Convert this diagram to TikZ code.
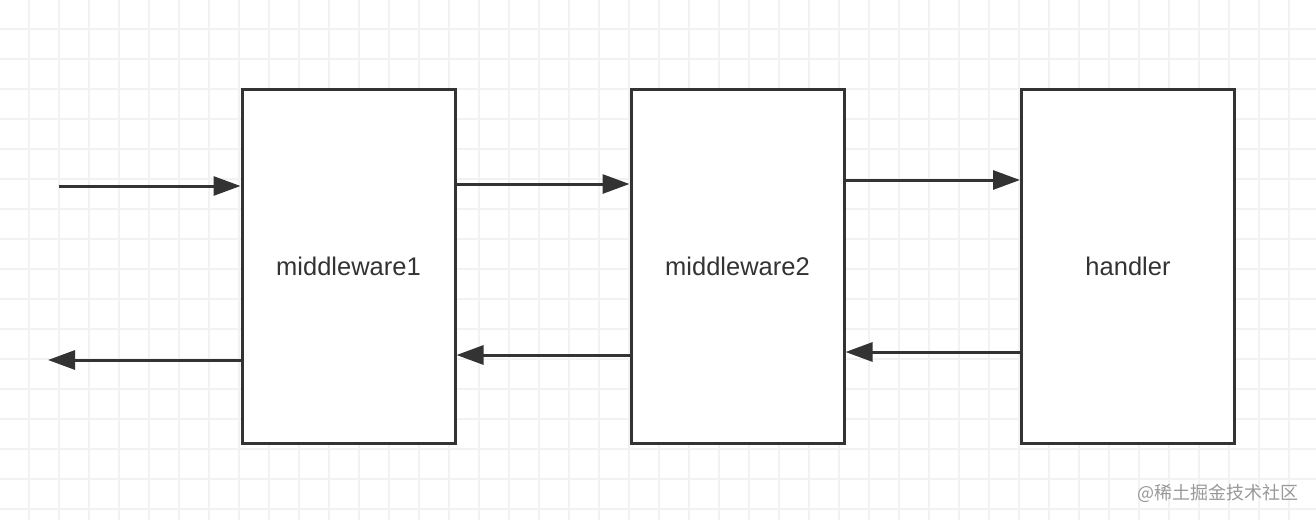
\documentclass[tikz,border=0pt]{standalone}
\usepackage{fontspec}
\setmainfont{Liberation Sans}
\newfontfamily\cjk{Noto Sans CJK SC}
\usetikzlibrary{arrows.meta}
\begin{document}
\begin{tikzpicture}[x=1pt,y=-1pt,
  blk/.style={draw=black!80, fill=white, line width=3pt, minimum width=213pt, minimum height=354pt, inner sep=0pt, font=\fontsize{25.5}{30}\selectfont, text=black!80},
  conn/.style={draw=black!80, line width=3pt, -{Triangle[length=27pt,width=19pt]}},
  gridline/.style={draw=black!5, line width=1.2pt}]
\useasboundingbox (0,0) rectangle (1316,520);
\fill[white] (0,0) rectangle (1316,520);
\foreach \i in {0,...,43} { \draw[gridline] ({29+30*\i},0) -- ({29+30*\i},520); }
\foreach \j in {0,...,17} { \draw[gridline] (0,{29+30*\j}) -- (1316,{29+30*\j}); }
\node[blk] (m1) at (348.5,266) {middleware1};
\node[blk] (m2) at (737.5,266) {middleware2};
\node[blk] (h) at (1128,266) {handler};
\coordinate (in) at (59,186);
\coordinate (out) at (48,360);
\draw[conn] (in) -- (in -| m1.west);
\draw[conn] (m1.east |- 0,184) -- (m2.west |- 0,184);
\draw[conn] (m2.east |- 0,180) -- (h.west |- 0,180);
\draw[conn] (h.west |- 0,352) -- (m2.east |- 0,352);
\draw[conn] (m2.west |- 0,355) -- (m1.east |- 0,355);
\draw[conn] (m1.west |- out) -- (out);
\node[font=\cjk\fontsize{18}{20}\selectfont, text=black!40, anchor=east] (wm) at (1302,493) {@稀土掘金技术社区};
\end{tikzpicture}
\end{document}
